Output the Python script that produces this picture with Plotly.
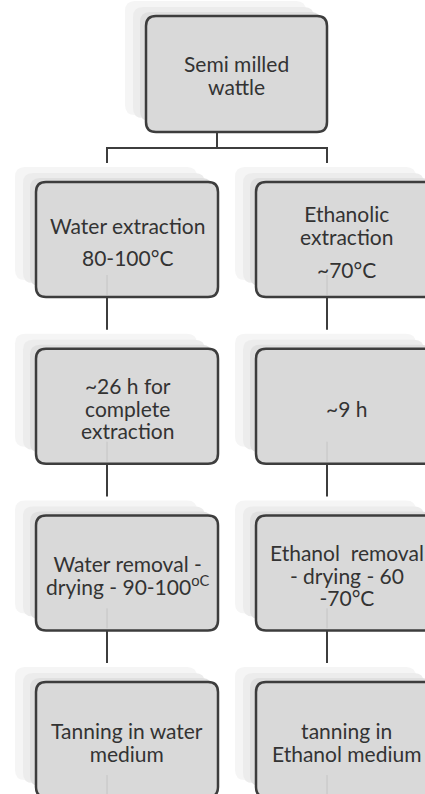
import plotly.graph_objects as go

# ---- content (labels of the flowchart) ----
top_lines = ["Semi milled", "wattle"]
water_lines = [
    ["Water extraction", "80-100°C"],
    ["~26 h for", "complete", "extraction"],
    ["Water removal -", "drying - 90-100<sup>oC</sup>"],
    ["Tanning in water", "medium"],
]
ethanol_lines = [
    ["Ethanolic", "extraction", "~70°C"],
    ["~9 h"],
    ["Ethanol  removal", "- drying - 60", "-70°C"],
    ["tanning in", "Ethanol medium"],
]
# extra paragraph gap (px) before a given line index of a node: (column, row) -> (line index, gap)
para_gaps = {("water", 0): (1, 10), ("ethanol", 0): (2, 11)}

# ---- layout / style ----
W, H = 425, 794
FILL = "#d9d9d9"
EDGE = "#3d3d3d"
TXT = "#333333"
FONT = "Lato"
FS = 21            # glyph size
LH = 22.5          # line pitch
BASE_FS = LH / 1.3  # plotly line pitch = 1.3 * annotation font size
R = 10
BOX_H = 115
ROW0_TOP = 182
ROW_STEP = 166.7
COL_X = {"water": (36, 218), "ethanol": (256, 437)}
TOP_BOX = (146, 16, 327, 132)


def rrect(x0, y0, x1, y1, r):
    return (f"M{x0+r},{y0} L{x1-r},{y0} Q{x1},{y0} {x1},{y0+r} "
            f"L{x1},{y1-r} Q{x1},{y1} {x1-r},{y1} L{x0+r},{y1} "
            f"Q{x0},{y1} {x0},{y1-r} L{x0},{y0+r} Q{x0},{y0} {x0+r},{y0} Z")


shapes = []
annotations = []


def add_box(x0, y0, x1, y1):
    # soft stacked "shadow" cards
    shapes.append(dict(type="path", path=rrect(x0 - 21, y0 - 15, x1 - 21, y1 - 17, R),
                       xref="x", yref="y", fillcolor="#f5f5f5", line=dict(width=0)))
    shapes.append(dict(type="path", path=rrect(x0 - 13, y0 - 9, x1 - 13, y1 - 14, R),
                       xref="x", yref="y", fillcolor="#ececec", line=dict(width=0)))
    shapes.append(dict(type="path", path=rrect(x0 - 6, y0 - 4, x1 - 6, y1 - 11, R),
                       xref="x", yref="y", fillcolor="#e0e0e0", line=dict(width=0)))
    shapes.append(dict(type="path", path=rrect(x0, y0, x1, y1, R),
                       xref="x", yref="y", fillcolor=FILL, line=dict(color=EDGE, width=2.5)))


def add_text(lines, cx, cy, gap=None):
    # split into paragraphs
    if gap:
        paras = [lines[:gap[0]], lines[gap[0]:]]
        extra = gap[1]
    else:
        paras = [lines]
        extra = 0
    heights = [(len(p) - 1) * LH for p in paras]
    total = sum(heights) + (len(paras) - 1) * (LH + extra)
    top = cy - total / 2
    for p, h in zip(paras, heights):
        text = "<br>".join(f"<span style='font-size:{FS}px'>{t}</span>" for t in p)
        annotations.append(dict(x=cx, y=top + h / 2, xref="x", yref="y", text=text,
                                showarrow=False, xanchor="center", yanchor="middle",
                                align="center",
                                font=dict(family=FONT, size=BASE_FS, color=TXT)))
        top += h + LH + extra


def vline(x, y0, y1, color=EDGE, width=2):
    shapes.append(dict(type="line", x0=x, x1=x, y0=y0, y1=y1, xref="x", yref="y",
                       line=dict(color=color, width=width)))


# top node
tx0, ty0, tx1, ty1 = TOP_BOX
add_box(tx0, ty0, tx1, ty1)
add_text(top_lines, (tx0 + tx1) / 2, (ty0 + ty1) / 2 + 0.5)

# branch connector
split_y = 148
vline(tx0 + 71, ty1, split_y)
shapes.append(dict(type="line", x0=COL_X["water"][0] + 71, x1=COL_X["ethanol"][0] + 71,
                   y0=split_y, y1=split_y, xref="x", yref="y", line=dict(color=EDGE, width=2)))
for col in ("water", "ethanol"):
    vline(COL_X[col][0] + 71, split_y - 1, ROW0_TOP - 19)

# columns
for col, data in (("water", water_lines), ("ethanol", ethanol_lines)):
    x0, x1 = COL_X[col]
    cx = (x0 + x1) / 2
    for i, lines in enumerate(data):
        y0 = ROW0_TOP + i * ROW_STEP
        y1 = y0 + BOX_H
        add_box(x0, y0, x1, y1)
        # faint connector trace showing through the box
        vline(x0 + 71, y1 - 22, y1 - 2, color="#c4c4c4", width=1)
        add_text(lines, cx, (y0 + y1) / 2 + 2, para_gaps.get((col, i)))
        if i < len(data) - 1:
            vline(x0 + 71, y1, y0 + ROW_STEP - 19)

fig = go.Figure()
fig.update_layout(
    width=W, height=H,
    margin=dict(l=0, r=0, t=0, b=0),
    paper_bgcolor="white", plot_bgcolor="white",
    xaxis=dict(range=[0, W], visible=False, fixedrange=True),
    yaxis=dict(range=[H, 0], visible=False, fixedrange=True),
    shapes=shapes, annotations=annotations, showlegend=False,
)
fig.write_html(
    "out.html",
    config={"displayModeBar": False},
    post_script="document.body.style.margin='0';document.body.style.overflow='hidden';",
)
